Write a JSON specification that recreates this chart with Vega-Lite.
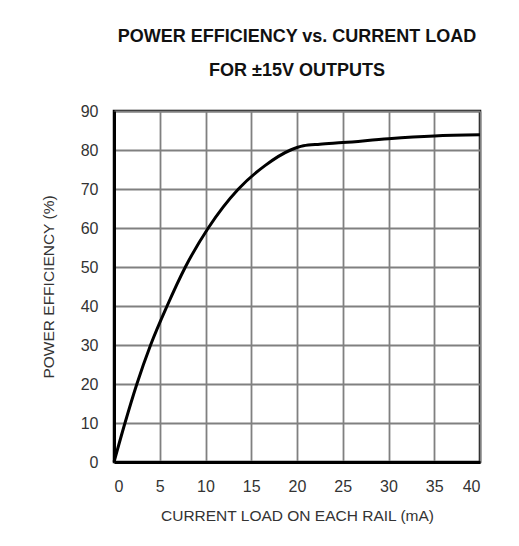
{
  "$schema": "https://vega.github.io/schema/vega-lite/v6.json",
  "autosize": "none",
  "width": 366,
  "height": 351,
  "padding": {"left": 114, "top": 111, "right": 39, "bottom": 84},
  "background": "white",
  "title": {
    "text": ["POWER EFFICIENCY vs. CURRENT LOAD", "FOR ±15V OUTPUTS"],
    "font": "Liberation Sans",
    "fontSize": 18,
    "fontWeight": "bold",
    "color": "#111111",
    "lineHeight": 34,
    "anchor": "middle",
    "offset": 23
  },
  "data": {
    "values": [
      {"load": 0, "eff": 0},
      {"load": 1.2, "eff": 10},
      {"load": 2.5, "eff": 20},
      {"load": 4.0, "eff": 30},
      {"load": 5.8, "eff": 40},
      {"load": 7.8, "eff": 50},
      {"load": 10.3, "eff": 60},
      {"load": 13.6, "eff": 70},
      {"load": 16.5, "eff": 76},
      {"load": 19.3, "eff": 80},
      {"load": 20.7, "eff": 81.1},
      {"load": 22.5, "eff": 81.5},
      {"load": 25, "eff": 81.9},
      {"load": 30, "eff": 82.9},
      {"load": 35, "eff": 83.6},
      {"load": 40, "eff": 83.9}
    ]
  },
  "mark": {"type": "line", "color": "black", "strokeWidth": 3, "interpolate": "monotone"},
  "encoding": {
    "x": {
      "field": "load",
      "type": "quantitative",
      "scale": {"domain": [0, 40], "nice": false},
      "axis": {
        "title": "CURRENT LOAD ON EACH RAIL (mA)",
        "values": [0, 5, 10, 15, 20, 25, 30, 35, 40],
        "labelOverlap": false
      }
    },
    "y": {
      "field": "eff",
      "type": "quantitative",
      "scale": {"domain": [0, 90], "nice": false},
      "axis": {
        "title": "POWER EFFICIENCY (%)",
        "values": [0, 10, 20, 30, 40, 50, 60, 70, 80, 90],
        "labelOverlap": false
      }
    }
  },
  "config": {
    "view": {"stroke": "black", "strokeWidth": 2.5},
    "axis": {
      "labelFont": "Liberation Sans",
      "labelFontSize": 16,
      "labelColor": "#333333",
      "titleFont": "Liberation Sans",
      "titleFontSize": 15.5,
      "titleFontWeight": "normal",
      "titleColor": "#333333",
      "ticks": false,
      "domain": true,
      "domainColor": "black",
      "domainWidth": 3,
      "grid": true,
      "gridColor": "#808080",
      "gridWidth": 1.8
    },
    "axisX": {"labelPadding": 16, "titlePadding": 14},
    "axisY": {"labelPadding": 16, "titlePadding": 24}
  }
}
